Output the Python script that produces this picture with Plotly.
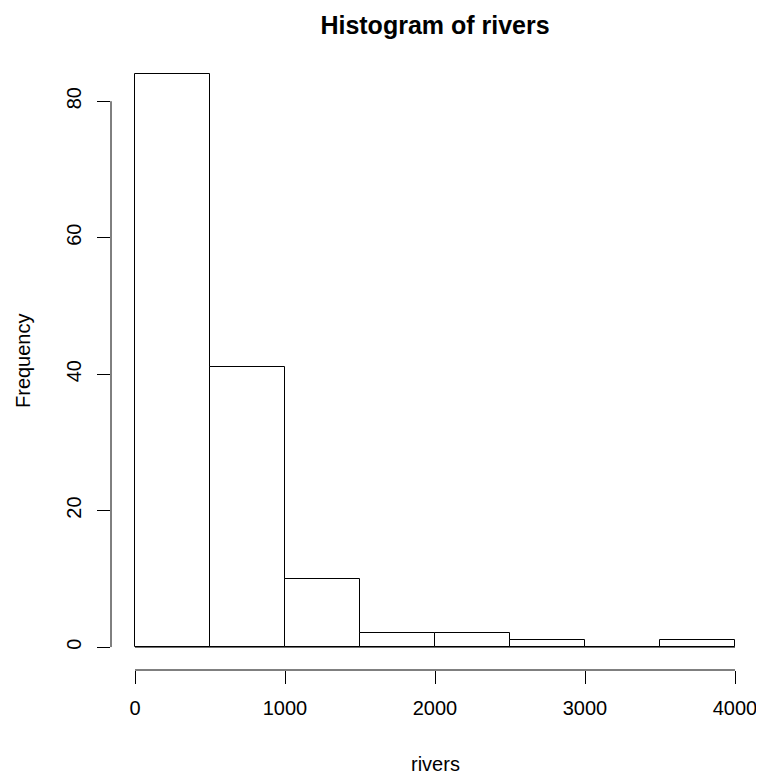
import plotly.graph_objects as go

# Data: histogram of rivers (bin edges and counts)
bin_edges = [0, 500, 1000, 1500, 2000, 2500, 3000, 3500, 4000]
counts = [84, 41, 10, 2, 2, 1, 0, 1]
x_ticks = [0, 1000, 2000, 3000, 4000]
y_ticks = [0, 20, 40, 60, 80]
title_text = "Histogram of rivers"
x_label = "rivers"
y_label = "Frequency"

FONT = "Liberation Sans, Arial, Helvetica, sans-serif"
OFF = 8  # page body margin
W, H = 764 - OFF, 773 - OFF
# target screen pixels of plot region
PL, PR, PT, PB = 111, 759, 51, 670
ML, MT = PL - OFF, PT - OFF
MR = W - (PR - OFF)
MB = H - (PB - OFF)
pw, ph = W - ML - MR, H - MT - MB

centers = [(a + b) / 2 for a, b in zip(bin_edges[:-1], bin_edges[1:])]
widths = [b - a for a, b in zip(bin_edges[:-1], bin_edges[1:])]

# R-style 4% axis extension
xr = bin_edges[-1] - bin_edges[0]
x_range = [bin_edges[0] - 0.04 * xr, bin_edges[-1] + 0.04 * xr]
ymax = max(counts)
y_range = [0 - 0.04 * ymax, ymax + 0.04 * ymax]

fig = go.Figure()
fig.add_trace(go.Bar(
    x=centers, y=counts, width=widths,
    marker=dict(color="white", line=dict(color="black", width=1)),
    showlegend=False, hoverinfo="skip",
))
# baseline (covers zero-height bins like R's rect outline)
fig.add_trace(go.Scatter(
    x=[bin_edges[0], bin_edges[-1]], y=[0, 0], mode="lines",
    line=dict(color="black", width=1), showlegend=False, hoverinfo="skip",
))

# axis lines spanning first to last tick (R style)
fig.add_shape(type="line", xref="x", yref="paper",
              x0=x_ticks[0], x1=x_ticks[-1], y0=0, y1=0,
              line=dict(color="black", width=1))
fig.add_shape(type="line", xref="paper", yref="y",
              x0=0, x1=0, y0=y_ticks[0], y1=y_ticks[-1],
              line=dict(color="black", width=1))

fig.update_layout(
    width=W, height=H,
    margin=dict(l=ML, r=MR, t=MT, b=MB, pad=0, autoexpand=False),
    paper_bgcolor="white", plot_bgcolor="white",
    font=dict(family=FONT, size=20, color="black"),
    bargap=0,
    title=dict(text="<b>" + title_text + "</b>", x=0.5, xref="paper",
               y=1 - (25 - OFF) / H, yref="container", yanchor="middle",
               font=dict(size=25, family=FONT, color="black")),
    xaxis=dict(range=x_range, tickvals=x_ticks, ticktext=[str(v) for v in x_ticks],
               ticks="outside", ticklen=13, tickwidth=1, tickcolor="black",
               ticklabelstandoff=7,
               showline=False, showgrid=False, zeroline=False,
               tickfont=dict(size=20, family=FONT, color="black")),
    yaxis=dict(range=y_range, tickvals=y_ticks, ticktext=[str(v) for v in y_ticks],
               ticks="outside", ticklen=13, tickwidth=1, tickcolor="black",
               tickangle=-90, ticklabelstandoff=8,
               showline=False, showgrid=False, zeroline=False,
               tickfont=dict(size=20, family=FONT, color="black")),
    annotations=[
        dict(text=x_label, xref="paper", yref="paper", x=0.5,
             y=(PB - 764) / ph, yanchor="middle", xanchor="center",
             showarrow=False, font=dict(size=20, family=FONT, color="black")),
        dict(text=y_label, xref="paper", yref="paper",
             x=-(PL - 22.5) / pw, xanchor="center",
             y=0.5, yanchor="middle", textangle=-90,
             showarrow=False, font=dict(size=20, family=FONT, color="black")),
    ],
)

fig.write_html("out.html")
